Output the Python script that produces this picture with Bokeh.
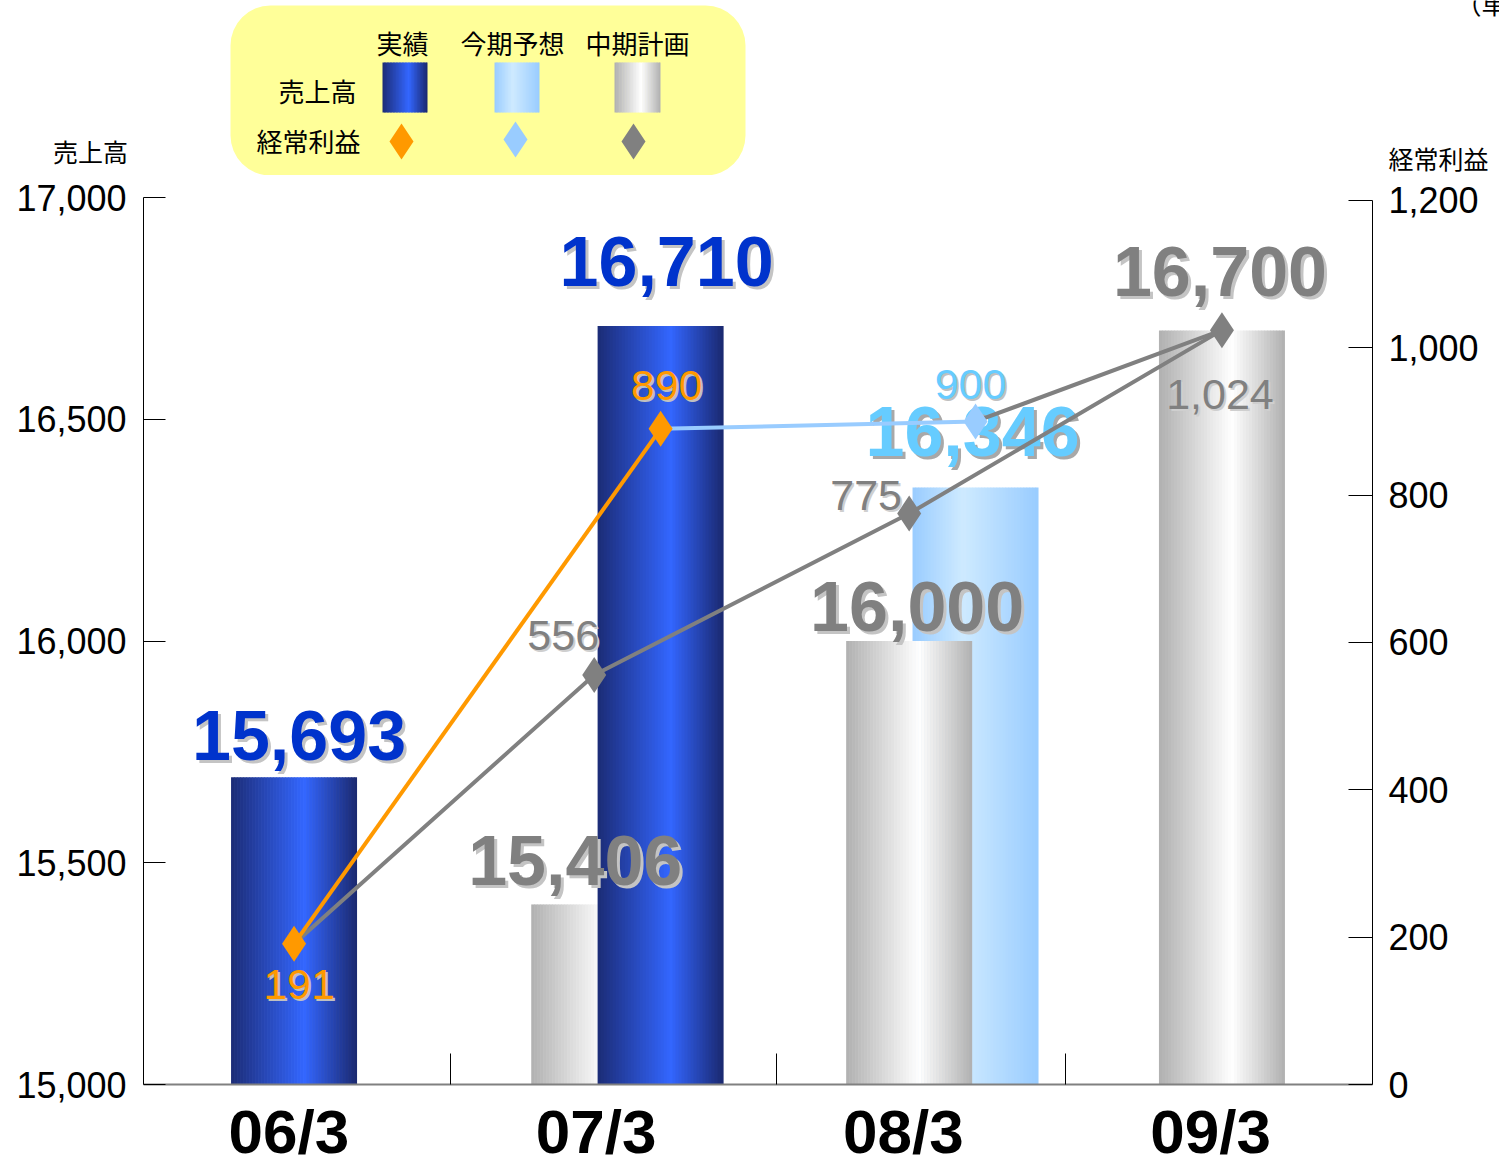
import numpy as np
from bokeh.plotting import figure
from bokeh.models import Range1d, LinearAxis, FixedTicker
from bokeh.core.properties import value
from bokeh.embed import file_html
from bokeh.resources import INLINE

# ---------------- data ----------------
categories = ["06/3", "07/3", "08/3", "09/3"]
sales_actual = [15693, 16710, None, None]      # 実績
sales_forecast = [None, None, 16346, None]     # 今期予想
sales_plan = [None, 15406, 16000, 16700]       # 中期計画
profit_actual = [191, 890, None, None]
profit_forecast = [None, None, 900, None]
profit_plan = [None, 556, 775, 1024]
sales_ticks = [15000, 15500, 16000, 16500, 17000]
sales_tick_labels = ["15,000", "15,500", "16,000", "16,500", "17,000"]
profit_ticks = [0, 200, 400, 600, 800, 1000, 1200]
profit_tick_labels = ["0", "200", "400", "600", "800", "1,000", "1,200"]
series_names = ["実績", "今期予想", "中期計画"]
row_names = ["売上高", "経常利益"]
left_title = "売上高"
right_title = "経常利益"
unit_note = "（単位：百万円）"

# ---------------- layout / style ----------------
W, H = 1499, 1168
HEAD_H = 175                      # header strip (legend, axis titles)
FL, FR, FT, FB = 143, 1372, 197, 1086   # plot frame edges (page px)
PXU = (FR - FL) / 4.0
y2_end = 1200 * (FB - FT) / (FB - 200.0)

LAT = "Liberation Sans"
CJK = "Noto Sans CJK JP"

BLUE_STOPS = [(0.0, (28, 44, 118)), (0.58, (51, 102, 255)), (1.0, (26, 40, 110))]
LBLUE_STOPS = [(0.0, (153, 204, 255)), (0.4, (206, 234, 255)), (1.0, (153, 204, 255))]
GRAY_STOPS = [(0.0, (176, 176, 176)), (0.58, (255, 255, 255)), (1.0, (176, 176, 176))]

def grad(stops, t):
    for (t0, c0), (t1, c1) in zip(stops[:-1], stops[1:]):
        if t0 <= t <= t1:
            f = (t - t0) / (t1 - t0)
            c = [round(a + (b - a) * f) for a, b in zip(c0, c1)]
            return "#%02x%02x%02x" % tuple(c)
    return "#%02x%02x%02x" % stops[-1][1]

def strips(xl, xr, top, bottom, stops, n, overlap):
    edges = np.linspace(xl, xr, n + 1)
    cols = [grad(stops, (k + 0.5) / n) for k in range(n)]
    rights = np.minimum(edges[1:] + overlap, xr)
    return dict(left=edges[:-1], right=rights, top=[top] * n, bottom=[bottom] * n, c=cols)

# ================= header strip (legend + axis titles), page-pixel coordinates =================
hd = figure(width=W, height=HEAD_H, x_range=Range1d(0, W), y_range=Range1d(HEAD_H, 0),
            output_backend="svg", toolbar_location=None, x_axis_type=None, y_axis_type=None,
            min_border=0, min_border_left=0, min_border_right=0, min_border_top=0,
            min_border_bottom=0, outline_line_color=None,
            background_fill_color="white", border_fill_color="white")
hd.xgrid.visible = False
hd.ygrid.visible = False

hd.quad(left=230, right=745, top=5, bottom=175, fill_color="#FFFF99", line_color=None,
        border_radius=40)
for (x0, x1), stops in zip([(382, 427), (494, 539), (614, 660)],
                           [BLUE_STOPS, LBLUE_STOPS, GRAY_STOPS]):
    d = strips(x0, x1, 62, 112, stops, 30, 0.6)
    hd.quad(left=d["left"], right=d["right"], top=d["top"], bottom=d["bottom"],
            fill_color=d["c"], line_color=None)
hd.text(x=[402, 512, 637], y=[42] * 3, text=series_names, text_font=value(CJK),
        text_font_size=value("26px"), text_color="black", text_align="center",
        text_baseline="middle")
hd.text(x=[356, 360], y=[90, 140], text=row_names, text_font=value(CJK),
        text_font_size=value("26px"), text_color="black", text_align="right",
        text_baseline="middle")
hd.scatter(x=[401, 515, 633], y=[141, 139, 141], marker="diamond", size=36,
           fill_color=["#FF9900", "#99CCFF", "#808080"], line_color=None)
hd.text(x=[90, 1438], y=[150, 157], text=[left_title, right_title], text_font=value(CJK),
        text_font_size=value("25px"), text_color="black", text_align="center",
        text_baseline="middle")
hd.text(x=[1455], y=[2], text=[unit_note], text_font=value(CJK),
        text_font_size=value("26px"), text_color="black", text_align="left",
        text_baseline="middle")

# ================= main chart =================
MH = H - HEAD_H
p = figure(width=W, height=MH, x_range=Range1d(0, 4), y_range=Range1d(15000, 17000),
           output_backend="svg", toolbar_location=None,
           min_border_left=FL, min_border_right=W - FR,
           min_border_top=FT - HEAD_H, min_border_bottom=H - FB,
           background_fill_color="white", border_fill_color="white",
           outline_line_color=None)
p.xgrid.visible = False
p.ygrid.visible = False
p.extra_y_ranges = {"profit": Range1d(0, y2_end)}

ya = p.yaxis[0]
ya.ticker = FixedTicker(ticks=sales_ticks)
ya.major_label_overrides = dict(zip(sales_ticks, sales_tick_labels))
ya.major_tick_in = 22
ya.major_tick_out = 0
ya.minor_tick_in = 0
ya.minor_tick_out = 0
ya.axis_line_color = "black"
ya.major_tick_line_color = "black"
ya.major_label_text_font = LAT
ya.major_label_text_font_size = "36px"
ya.major_label_text_color = "black"
ya.major_label_standoff = 17

ra = LinearAxis(y_range_name="profit", ticker=FixedTicker(ticks=profit_ticks),
                major_label_overrides=dict(zip(profit_ticks, profit_tick_labels)),
                bounds=(0, 1200), major_tick_in=24, major_tick_out=0,
                minor_tick_in=0, minor_tick_out=0, axis_line_color="black",
                major_tick_line_color="black", major_label_text_font=LAT,
                major_label_text_font_size="36px", major_label_text_color="black",
                major_label_standoff=16)
p.add_layout(ra, "right")

xa = p.xaxis[0]
cat_x = [round(i + 0.473, 3) for i in range(len(categories))]
xa.ticker = FixedTicker(ticks=cat_x, minor_ticks=[1.0, 2.06, 3.0])
xa.major_label_overrides = dict(zip(cat_x, categories))
xa.major_tick_in = 0
xa.major_tick_out = 0
xa.minor_tick_in = 31
xa.minor_tick_out = 0
xa.minor_tick_line_color = "black"
xa.axis_line_color = "#808080"
xa.axis_line_width = 2
xa.major_label_text_font = LAT
xa.major_label_text_font_style = "bold"
xa.major_label_text_font_size = "62px"
xa.major_label_text_color = "black"
xa.major_label_standoff = 12

# ---------------- bars ----------------
group_shift = [-0.01, 0.075, 0.1, 0.01]
pair_dodge = 0.108
bar_w = 126 / PXU

def bar_center(i, kind):
    n = sum(s[i] is not None for s in (sales_actual, sales_forecast, sales_plan))
    c = i + 0.5 + group_shift[i]
    if n > 1:
        c += -pair_dodge if kind == "plan" else pair_dodge
    return c

bars = []
for kind, series in [("forecast", sales_forecast), ("plan", sales_plan), ("actual", sales_actual)]:
    for i, v in enumerate(series):
        if v is not None:
            bars.append((i, kind, v))

stops_of = {"actual": BLUE_STOPS, "forecast": LBLUE_STOPS, "plan": GRAY_STOPS}
for i, kind, v in bars:
    c = bar_center(i, kind)
    d = strips(c - bar_w / 2, c + bar_w / 2, v, 15000, stops_of[kind], 42, 0.6 / PXU)
    p.quad(left=d["left"], right=d["right"], top=d["top"], bottom=d["bottom"],
           fill_color=d["c"], line_color=None)

# big value labels: (dx px, digit-centre offset px from bar top)
big_style = {"actual": ("#0033CC", "#C4C4C4"), "forecast": ("#66CCFF", "#A8A8A8"),
             "plan": ("#808080", "#C4C4C4")}
big_offset = {(0, "actual"): (5, -42), (1, "actual"): (6, -65), (1, "plan"): (-19, -44),
              (2, "forecast"): (-3, -56), (2, "plan"): (8, -35), (3, "plan"): (-2, -59)}
for i, kind, v in bars:
    c = bar_center(i, kind)
    dx, dy = big_offset[(i, kind)]
    col, sh = big_style[kind]
    for ox, oy, cc in [(3, 3, sh), (0, 0, col)]:
        p.text(x=[c], y=[v], text=[f"{v:,}"], x_offset=dx + ox, y_offset=dy + oy,
               text_font=value(LAT), text_font_style="bold", text_font_size=value("70px"),
               text_color=cc, text_align="center", text_baseline="middle")

# ---------------- profit lines ----------------
px_plan = [bar_center(0, "actual")] + [bar_center(i, "plan") for i in range(4) if profit_plan[i] is not None]
py_plan = [profit_actual[0]] + [v for v in profit_plan if v is not None]
LW = 4
p.line(px_plan, py_plan, y_range_name="profit", line_color="#808080", line_width=LW)
p.line([bar_center(2, "forecast"), bar_center(3, "plan")], [profit_forecast[2], profit_plan[3]],
       y_range_name="profit", line_color="#808080", line_width=LW)
p.line([bar_center(1, "actual"), bar_center(2, "forecast")], [profit_actual[1], profit_forecast[2]],
       y_range_name="profit", line_color="#99CCFF", line_width=LW)
p.line([bar_center(i, "actual") for i in range(2)], profit_actual[:2],
       y_range_name="profit", line_color="#FF9900", line_width=LW)

# (x, y, marker colour, text colour, shadow, dx px, dy px)
pts = [
    (bar_center(1, "plan"), profit_plan[1], "#808080", "#808080", "#CFCFCF", -31, -39),
    (bar_center(2, "plan"), profit_plan[2], "#808080", "#808080", "#CFCFCF", -43, -18),
    (bar_center(3, "plan"), profit_plan[3], "#808080", "#808080", "#CFCFCF", -2, 64),
    (bar_center(2, "forecast"), profit_forecast[2], "#99CCFF", "#66CCFF", "#C0C0C0", -5, -37),
    (bar_center(0, "actual"), profit_actual[0], "#FF9900", "#FF9900", "#C0C0C0", 5, 41),
    (bar_center(1, "actual"), profit_actual[1], "#FF9900", "#FF9900", "#C0C0C0", 6, -43),
]
p.scatter(x=[q[0] for q in pts], y=[q[1] for q in pts], marker="diamond", size=36,
          fill_color=[q[2] for q in pts], line_color=None, y_range_name="profit")
for x, yv, mc, tc, sh, dx, dy in pts:
    for ox, oy, cc in [(2, 2, sh), (0, 0, tc)]:
        p.text(x=[x], y=[yv], text=[f"{yv:,}"], x_offset=dx + ox, y_offset=dy + oy,
               y_range_name="profit", text_font=value(LAT), text_font_size=value("43px"),
               text_color=cc, text_align="center", text_baseline="middle")

# two independent roots (header above chart) so their frames are not aligned
open("out.html", "w").write(file_html([hd, p], INLINE))
